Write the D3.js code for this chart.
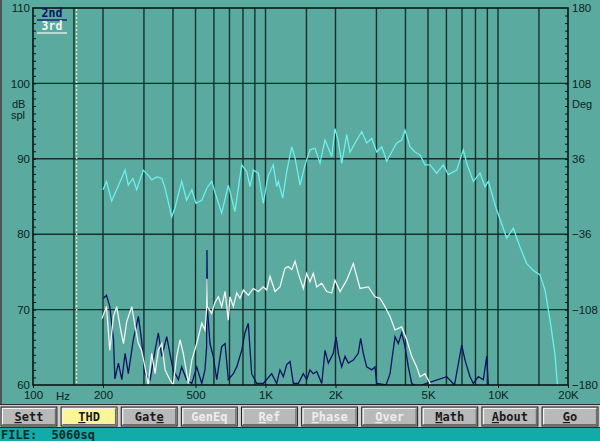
<!DOCTYPE html>
<html><head><meta charset="utf-8">
<script src="https://cdn.jsdelivr.net/npm/d3@7"></script>
<style>
html,body{margin:0;padding:0;background:#5aaa9f;overflow:hidden}
svg{display:block}
</style></head><body>
<svg id="c" width="600" height="441"></svg>
<script>
// ---- data ----
const freqTicks = [100, 200, 500, 1000, 2000, 5000, 10000, 20000];
const freqTickLabels = ["100", "200", "500", "1K", "2K", "5K", "10K", "20K"];
const freqGrid = [150, 200, 300, 400, 500, 600, 700, 800, 900, 1000, 1500, 2000, 3000, 4000, 5000, 6000, 7000, 8000, 9000, 10000, 15000];
const dbTicks = [60, 70, 80, 90, 100, 110];
const degTicks = [-180, -108, -36, 36, 108, 180];
const markerFreq = 154;

const response = [
 [200,85.9],[207,87.0],[218,84.4],[249,88.5],[257,86.5],[269,87.4],[279,85.9],[298,88.5],
 [313,87.8],[324,87.2],[340,87.6],[358,87.4],[370,86.1],[395,82.3],[408,83.5],[436,87.0],
 [458,84.5],[482,85.9],[502,84.1],[532,84.5],[559,86.1],[587,87.0],[607,85.5],[648,82.8],
 [692,86.5],[739,83.0],[790,89.2],[830,88.3],[858,86.3],[886,88.5],[931,88.1],[978,84.1],
 [1012,86.7],[1028,87.8],[1080,89.2],[1117,86.3],[1135,87.0],[1186,84.8],[1234,88.3],[1297,91.6],
 [1340,90.1],[1408,86.5],[1479,89.2],[1553,91.2],[1633,91.4],[1716,89.4],[1803,92.5],[1927,90.3],
 [1990,94.0],[2057,92.3],[2127,89.4],[2235,93.2],[2309,90.9],[2427,92.1],[2594,93.6],[2724,92.1],
 [2863,92.7],[3008,90.9],[3161,91.6],[3321,89.7],[3490,90.9],[3667,92.1],[3853,92.5],[3981,93.8],
 [4183,91.6],[4395,90.9],[4618,90.5],[4853,89.2],[5099,89.2],[5448,88.1],[5818,89.2],[6112,87.9],
 [6643,88.5],[7093,91.2],[7335,89.4],[7832,87.0],[8369,88.1],[8791,86.3],[9085,87.0],[9872,83.2],
 [10900,79.5],[11637,80.8],[12434,78.3],[13288,76.1],[14186,75.2],[15155,74.6],[15930,72.6],
 [16740,68.6],[17590,64.0],[18113,59.0]
];

const third = [
 [198,68.8],[207,70.4],[214,64.6],[222,69.1],[229,70.4],[237,67.7],[245,65.5],[253,68.4],
 [266,70.4],[275,67.7],[284,65.5],[293,64.6],[303,62.4],[313,60.0],[324,64.2],[335,61.5],
 [346,64.6],[358,65.5],[370,62.0],[388,60.7],[401,60.0],[415,63.8],[429,66.0],[443,64.2],
 [466,60.2],[482,63.3],[506,65.5],[532,68.2],[549,67.3],[558,70.0],[560,74.1],[562,70.4],
 [587,69.5],[607,71.0],[627,71.7],[648,70.4],[670,72.4],[692,68.6],[703,71.7],[727,70.4],
 [752,72.2],[777,71.5],[803,72.6],[843,71.9],[886,72.8],[931,72.4],[978,73.0],[1012,72.6],
 [1046,74.4],[1099,72.4],[1154,73.0],[1213,75.5],[1253,75.7],[1297,75.3],[1340,76.4],[1384,74.8],
 [1454,72.8],[1503,74.8],[1553,73.7],[1605,74.8],[1661,73.0],[1745,73.5],[1833,72.4],[1927,72.2],
 [1990,73.9],[2092,72.4],[2235,73.9],[2386,76.1],[2550,72.8],[2768,73.0],[2958,71.7],[3108,71.5],
 [3266,70.4],[3432,69.1],[3606,67.3],[3853,67.7],[4050,66.0],[4255,63.8],[4469,62.4],[4618,61.1],
 [4853,61.5],[5099,60.2],[5180,59.5]
];

const second = [
 [201,71.5],[207,71.9],[214,70.4],[222,66.0],[225,60.8],[233,62.9],[241,60.7],[249,64.2],
 [257,61.5],[270,66.0],[284,69.1],[293,66.0],[303,61.5],[319,60.7],[335,64.6],[346,66.9],
 [358,63.8],[376,66.4],[388,64.2],[401,62.0],[422,60.7],[436,62.4],[458,60.7],[482,60.2],
 [506,62.4],[532,60.2],[549,62.0],[558,65.0],[560,77.9],[563,70.0],[577,65.5],[596,63.8],
 [617,60.7],[648,65.1],[670,65.5],[692,60.7],[727,61.5],[752,62.4],[790,64.6],[816,66.9],
 [843,68.2],[872,61.5],[917,60.2],[978,60.2],[1063,61.5],[1117,60.2],[1154,62.0],[1193,61.1],
 [1234,62.7],[1275,63.1],[1318,60.2],[1384,60.2],[1454,61.5],[1503,60.7],[1553,62.0],[1605,61.5],
 [1661,61.8],[1745,60.2],[1803,64.6],[1863,62.9],[1957,64.2],[2011,66.4],[2057,64.2],[2127,62.4],
 [2198,63.8],[2271,62.9],[2386,63.3],[2506,64.2],[2567,66.2],[2634,64.2],[2724,62.4],[2863,62.0],
 [2958,62.4],[3008,60.2],[3300,60.0],[3432,61.5],[3606,66.4],[3725,65.5],[3853,66.9],[3981,65.1],
 [4114,62.4],[4255,60.2],[4500,59.8],[6018,61.1],[6500,60.0],[6981,65.3],[7211,63.3],[7580,61.1],
 [7832,60.2],[8229,61.1],[8648,60.7],[8942,63.8],[9085,60.0]
];

const legendNames = ["2nd", "3rd"];
const buttonLabels = ["Sett", "THD", "Gate", "GenEq", "Ref", "Phase", "Over", "Math", "About", "Go"];
const buttonHotkey = [0, 0, 3, -1, 0, 0, 0, 0, 0, 0];
const buttonDisabled = [false, false, false, true, true, true, true, false, false, false];
const activeButton = "THD";
const fileLabel = "FILE:  5060sq";

// ---- drawing ----
const svg = d3.select("#c");
const L = 33, R = 568, T = 8, B = 385;
const x = d3.scaleLog().domain([100, 20000]).range([L, R]);
const y = d3.scaleLinear().domain([60, 110]).range([B, T]);
const yR = d3.scaleLinear().domain([-180, 180]).range([B, T]);

const BG = "#5aaa9f", GRID = "#14302b", AXIS = "#0a1614", LBL = "#0d1f1d";

svg.append("rect").attr("width", 600).attr("height", 441).attr("fill", BG);
svg.append("rect").attr("x", 0).attr("y", 0).attr("width", 2).attr("height", 404).attr("fill", "#4a5654");

svg.append("defs").append("clipPath").attr("id", "pc")
  .append("rect").attr("x", L).attr("y", T).attr("width", R - L).attr("height", B - T);

// grid
const g = svg.append("g");
g.selectAll("line.v").data(freqGrid).join("line")
  .attr("x1", d => x(d)).attr("x2", d => x(d)).attr("y1", T).attr("y2", B)
  .attr("stroke", GRID).attr("stroke-width", 1.4);
g.selectAll("line.h").data(dbTicks.filter(d => d > 60 && d < 110)).join("line")
  .attr("x1", L).attr("x2", R).attr("y1", d => y(d)).attr("y2", d => y(d))
  .attr("stroke", GRID).attr("stroke-width", 1.4);

// marker (dotted)
svg.append("line").attr("x1", x(markerFreq)).attr("x2", x(markerFreq)).attr("y1", T + 1).attr("y2", B)
  .attr("stroke", "#e6e6a8").attr("stroke-width", 1.5).attr("stroke-dasharray", "2,2");

// curves
const line = d3.line().x(d => x(d[0])).y(d => y(d[1]));
const cg = svg.append("g").attr("clip-path", "url(#pc)");
cg.append("path").datum(second).attr("d", line).attr("fill", "none").attr("stroke", "#0e1262").attr("stroke-width", 1.3);
cg.append("path").datum(third).attr("d", line).attr("fill", "none").attr("stroke", "#f2f4f2").attr("stroke-width", 1.3);
cg.append("path").datum(response).attr("d", line).attr("fill", "none").attr("stroke", "#6cf0ee").attr("stroke-width", 1.3);

// frame
svg.append("rect").attr("x", L).attr("y", T).attr("width", R - L).attr("height", B - T)
  .attr("fill", "none").attr("stroke", AXIS).attr("stroke-width", 1.6);

// axes
const fontAx = "'Liberation Sans', Arial, sans-serif";
const leftAx = svg.append("g").attr("transform", `translate(${L},0)`)
  .call(d3.axisLeft(y).tickValues(dbTicks).tickSize(0).tickPadding(3));
const leftMinor = svg.append("g").attr("transform", `translate(${L},0)`)
  .call(d3.axisRight(y).tickValues(d3.range(61, 110)).tickSize(3).tickFormat(""));
const rightAx = svg.append("g").attr("transform", `translate(${R},0)`)
  .call(d3.axisRight(yR).tickValues(degTicks).tickSize(0).tickPadding(4));
const rightMinor = svg.append("g").attr("transform", `translate(${R},0)`)
  .call(d3.axisLeft(yR).tickValues(d3.range(-172.8, 180, 7.2)).tickSize(3).tickFormat(""));
const botAx = svg.append("g").attr("transform", `translate(0,${B})`)
  .call(d3.axisBottom(x).tickValues(freqTicks).tickSize(3).tickPadding(3)
    .tickFormat((d, i) => freqTickLabels[i]));
[leftAx, leftMinor, rightAx, rightMinor, botAx].forEach(a => {
  a.select(".domain").remove();
  a.selectAll("line").attr("stroke", AXIS).attr("stroke-width", 1);
  a.selectAll("text").attr("fill", LBL).style("font-family", fontAx).style("font-size", "11.5px");
});

svg.append("text").attr("x", 63).attr("y", 400).text("Hz")
  .attr("fill", LBL).style("font-family", fontAx).style("font-size", "11.5px").attr("text-anchor", "middle");
svg.append("text").attr("x", 12).attr("y", 108).text("dB")
  .attr("fill", LBL).style("font-family", fontAx).style("font-size", "11px");
svg.append("text").attr("x", 11).attr("y", 119).text("spl")
  .attr("fill", LBL).style("font-family", fontAx).style("font-size", "11px");
svg.append("text").attr("x", 572).attr("y", 108).text("Deg")
  .attr("fill", LBL).style("font-family", fontAx).style("font-size", "11px");

// legend
const legColors = ["#0e1262", "#f2f4f2"];
const lg = svg.append("g");
legendNames.forEach((n, i) => {
  lg.append("text").attr("x", 52).attr("y", 17 + i * 13).attr("text-anchor", "middle").text(n)
    .attr("fill", legColors[i]).style("font-family", "'DejaVu Sans Mono', monospace")
    .style("font-weight", "bold").style("font-size", "11.5px");
  lg.append("line").attr("x1", 37).attr("x2", 67).attr("y1", 20 + i * 13).attr("y2", 20 + i * 13)
    .attr("stroke", legColors[i]).attr("stroke-width", 1.3);
});

// bottom bar
svg.append("rect").attr("x", 0).attr("y", 404).attr("width", 600).attr("height", 24).attr("fill", "#cfcfcf");
svg.append("line").attr("x1", 0).attr("x2", 600).attr("y1", 404.5).attr("y2", 404.5).attr("stroke", "#2a2a2a");
svg.append("line").attr("x1", 0).attr("x2", 600).attr("y1", 427.5).attr("y2", 427.5).attr("stroke", "#2a2a2a");
svg.append("rect").attr("x", 0).attr("y", 428).attr("width", 600).attr("height", 13).attr("fill", "#13aba7");

const bx = d3.scaleBand().domain(buttonLabels).range([1, 598]).paddingInner(0.07);
const bt = 407, bh = 19;
const btn = svg.append("g").selectAll("g").data(buttonLabels).join("g")
  .attr("transform", d => `translate(${bx(d)},${bt})`);
btn.append("rect").attr("width", bx.bandwidth()).attr("height", bh)
  .attr("fill", d => d === activeButton ? "#fbf59a" : "#b9b9b9").attr("stroke", "#1c1c1c").attr("stroke-width", 1);
btn.append("path").attr("d", `M1.5,${bh - 1.5}V1.5H${bx.bandwidth() - 1.5}`)
  .attr("fill", "none").attr("stroke", "#f4f4f4").attr("stroke-width", 1.2);
btn.append("path").attr("d", `M1.5,${bh - 1.5}H${bx.bandwidth() - 1.5}V1.5`)
  .attr("fill", "none").attr("stroke", "#6d6d6d").attr("stroke-width", 1.2);
btn.each(function (d, i) {
  const t = d3.select(this).append("text").attr("x", bx.bandwidth() / 2).attr("y", 14)
    .attr("text-anchor", "middle")
    .attr("fill", buttonDisabled[i] ? "#eeeeee" : "#1a1a1a")
    .style("font-family", "'DejaVu Sans Mono', monospace").style("font-weight", "bold").style("font-size", "12px");
  const k = buttonHotkey[i];
  [...d].forEach((ch, j) => {
    const s = t.append("tspan").text(ch);
    if (j === k) s.style("text-decoration", "underline");
  });
});

svg.append("text").attr("x", 1).attr("y", 439).text(fileLabel)
  .attr("fill", "#0b2a2a").style("font-family", "'DejaVu Sans Mono', monospace")
  .style("font-weight", "bold").style("font-size", "12px").attr("xml:space", "preserve")
  .style("white-space", "pre");
</script>
</body></html>
